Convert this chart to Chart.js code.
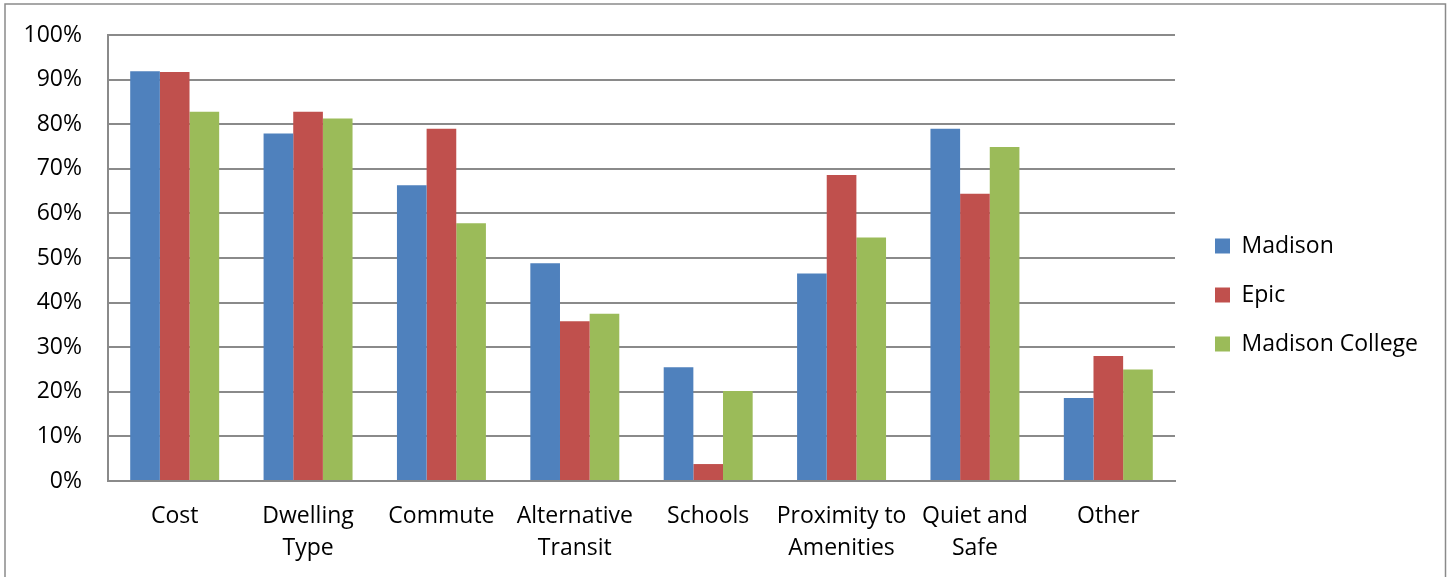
<!DOCTYPE html>
<html>
<head>
<meta charset="utf-8">
<script src="https://cdn.jsdelivr.net/npm/chart.js@4"></script>
<style>
  html, body { margin: 0; padding: 0; background: #fff; }
  #wrap { width: 1450px; height: 577px; position: relative; }
</style>
</head>
<body>
<div id="wrap"><canvas id="c" width="1450" height="577"></canvas></div>
<script>
const categories = [
  "Cost",
  ["Dwelling", "Type"],
  "Commute",
  ["Alternative", "Transit"],
  "Schools",
  ["Proximity to", "Amenities"],
  ["Quiet and", "Safe"],
  "Other"
];
const madison        = [91.9, 77.9, 66.3, 48.8, 25.5, 46.5, 79.0, 18.6];
const epic           = [91.7, 82.8, 79.0, 35.8, 3.8, 68.6, 64.4, 28.0];
const madisonCollege = [82.8, 81.3, 57.8, 37.5, 20.2, 54.6, 74.9, 25.0];
const yTicks = [0, 10, 20, 30, 40, 50, 60, 70, 80, 90, 100];

const FONT = "'Open Sans', 'DejaVu Sans', sans-serif";
const GRID = '#8a8a8a';

const outerBorder = {
  id: 'outerBorder',
  beforeDraw(chart) {
    const ctx = chart.ctx;
    ctx.save();
    ctx.fillStyle = '#fff';
    ctx.fillRect(0, 0, chart.width, chart.height);
    ctx.strokeStyle = GRID;
    ctx.lineWidth = 1.5;
    ctx.strokeRect(5, 4, 1440.5, 600);
    ctx.restore();
  }
};

const fixLegend = {
  id: 'fixLegend',
  beforeUpdate(chart) {
    const lg = chart.legend;
    if (lg && !lg._fixed) {
      const f = lg.fit.bind(lg);
      lg.fit = function () { f(); this.width = 1450 - 1189; };
      lg._fixed = true;
    }
  },
  afterLayout(chart) {
    const lg = chart.legend;
    if (lg) { lg.top -= 11; lg.bottom -= 11; }
  }
};

new Chart(document.getElementById('c'), {
  type: 'bar',
  data: {
    labels: categories,
    datasets: [
      { label: 'Madison', data: madison, backgroundColor: '#4F81BD' },
      { label: 'Epic', data: epic, backgroundColor: '#C0504D' },
      { label: 'Madison College', data: madisonCollege, backgroundColor: '#9BBB59' }
    ]
  },
  options: {
    responsive: false,
    animation: false,
    devicePixelRatio: 1,
    layout: { padding: { top: 35, bottom: 0, left: 0, right: 0 } },
    datasets: { bar: { barPercentage: 1.0, categoryPercentage: 0.667, borderWidth: 0 } },
    plugins: {
      tooltip: { enabled: false },
      legend: {
        position: 'right',
        align: 'center',
        labels: {
          font: { family: FONT, size: 23 },
          color: '#000',
          boxWidth: 15,
          boxHeight: 15,
          padding: 26
        }
      }
    },
    scales: {
      x: {
        grid: { display: false, drawTicks: false },
        border: { display: true, color: GRID, width: 2 },
        ticks: {
          font: { family: FONT, size: 23, lineHeight: 1.39 },
          color: '#000',
          padding: 19,
          maxRotation: 0,
          autoSkip: false
        },
        afterFit(scale) { scale.height = 96; }
      },
      y: {
        min: 0,
        max: 100,
        afterBuildTicks(scale) { scale.ticks = yTicks.map(v => ({ value: v })); },
        grid: { color: GRID, lineWidth: 2, drawTicks: false },
        border: { display: true, color: GRID, width: 2 },
        ticks: {
          font: { family: FONT, size: 23, lineHeight: 0.6 },
          color: '#000',
          padding: 26,
          callback: v => v + '%'
        },
        afterFit(scale) { scale.width = 108; }
      },
      spacer: {
        type: 'linear',
        position: 'right',
        display: true,
        grid: { display: false, drawTicks: false },
        border: { display: false },
        ticks: { display: false },
        afterFit(scale) { scale.width = 14; }
      }
    }
  },
  plugins: [outerBorder, fixLegend]
});
</script>
</body>
</html>
